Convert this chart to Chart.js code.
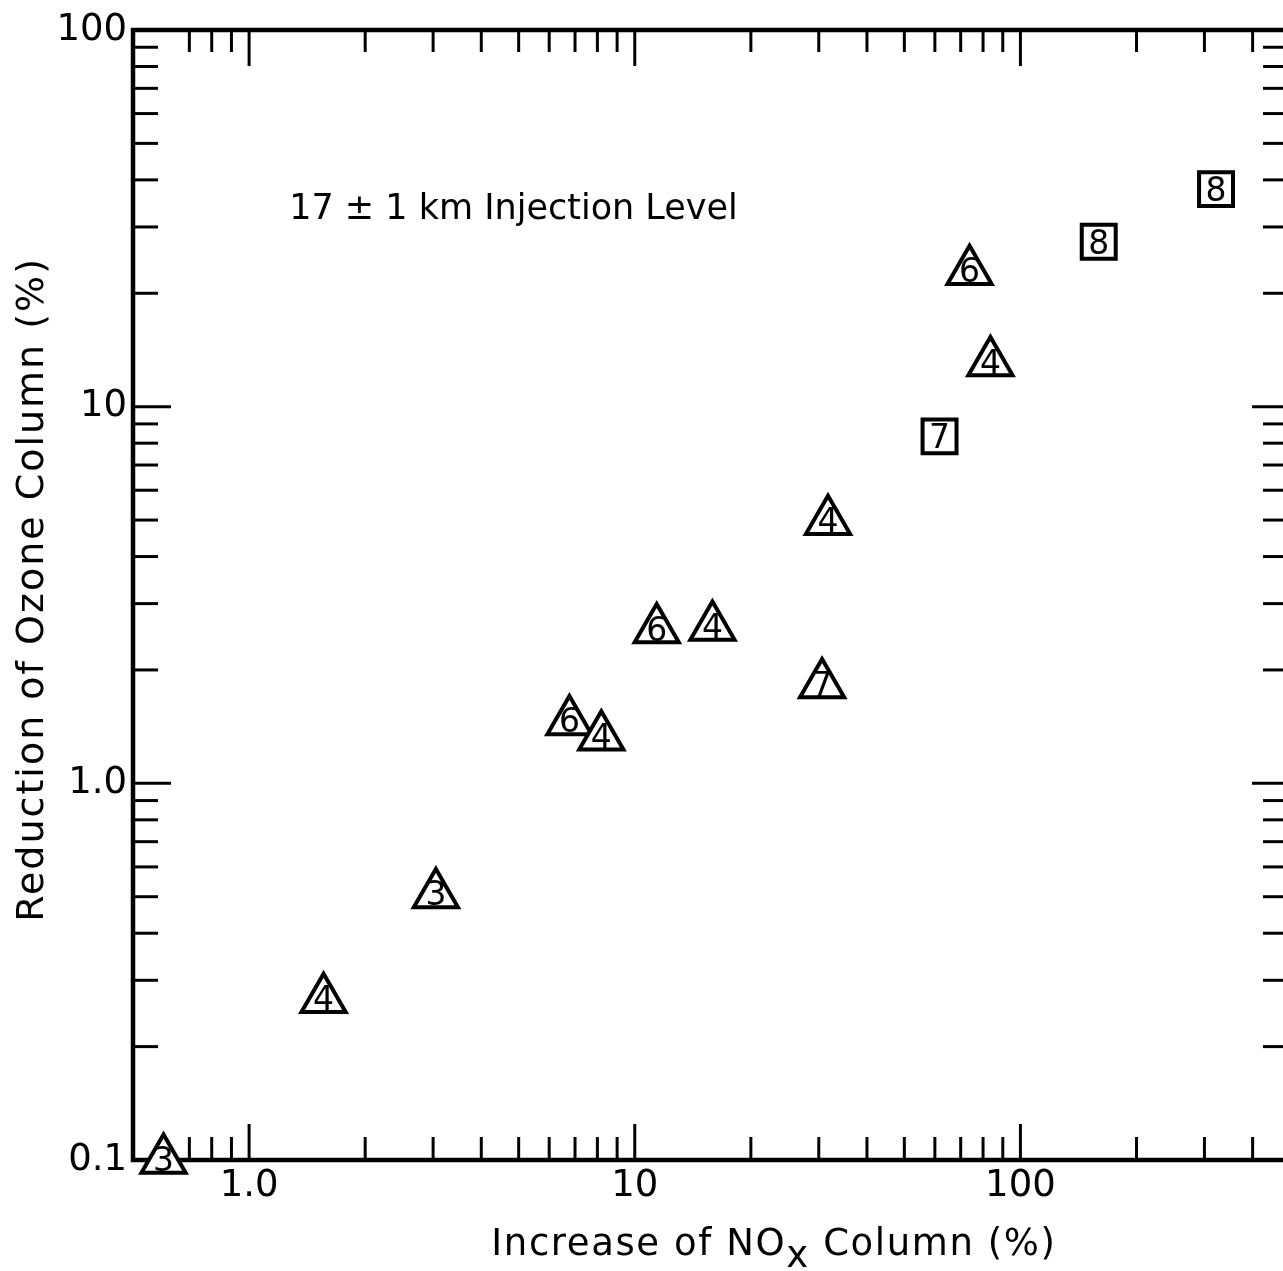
<!DOCTYPE html>
<html>
<head>
<meta charset="utf-8">
<script src="https://cdn.jsdelivr.net/npm/chart.js@4/dist/chart.umd.min.js"></script>
<style>
  html, body { margin: 0; padding: 0; background: #fff; overflow: hidden; }
  #wrap { width: 1283px; height: 1271px; overflow: hidden; }
  canvas { display: block; }
</style>
</head>
<body>
<div id="wrap"><canvas id="c" width="1320" height="1271" style="width:1320px;height:1271px"></canvas></div>
<script>
// Model runs plotted as triangles (increase of NOx column %, reduction of ozone column %)
const triNox   = [0.60, 1.56, 3.05, 6.77, 8.19, 11.4, 15.9, 30.6, 31.7, 73.8, 83.6];
const triOzone = [0.100, 0.267, 0.507, 1.46, 1.33, 2.56, 2.60, 1.83, 4.96, 22.9, 13.1];
const triTags  = ['3', '4', '3', '6', '4', '6', '4', '7', '4', '6', '4'];

// Model runs plotted as squares
const sqNox    = [61.7, 159.6, 321.5];
const sqOzone  = [8.34, 27.4, 37.8];
const sqTags   = ['7', '8', '8'];

// Axis ranges and ticks
const xRange = [0.5, 500];
const yRange = [0.1, 100];
const xMajor = [1, 10, 100];
const xMajorLabels = ['1.0', '10', '100'];
const xMinor = [0.7, 0.8, 0.9, 2, 3, 4, 5, 6, 7, 8, 9, 20, 30, 40, 50, 60, 70, 80, 90, 200, 300, 400];
const yMajor = [0.1, 1, 10, 100];
const yMajorLabels = ['0.1', '1.0', '10', '100'];
const yMinor = [0.2, 0.3, 0.4, 0.5, 0.6, 0.7, 0.8, 0.9, 2, 3, 4, 5, 6, 7, 8, 9, 20, 30, 40, 50, 60, 70, 80, 90];

const xTitleParts = ['Increase of NO', 'x', ' Column (%)'];
const yTitle = 'Reduction of Ozone Column (%)';
const note = '17 \u00b1 1 km Injection Level';

const FONT = '"DejaVu Sans", "Liberation Sans", sans-serif';

// Box frame with inward tick marks on all four sides
const framePlugin = {
  id: 'frame',
  beforeDatasetsDraw(chart) {
    const { ctx, chartArea: a, scales: { x, y } } = chart;
    ctx.save();
    ctx.strokeStyle = '#000';
    ctx.lineCap = 'butt';
    const seg = (x1, y1, x2, y2) => { ctx.beginPath(); ctx.moveTo(x1, y1); ctx.lineTo(x2, y2); ctx.stroke(); };
    ctx.lineWidth = 3;
    xMinor.forEach(v => {
      const px = x.getPixelForValue(v);
      seg(px, a.bottom, px, a.bottom - 23);
      seg(px, a.top, px, a.top + 22);
    });
    xMajor.forEach(v => {
      const px = x.getPixelForValue(v);
      seg(px, a.bottom, px, a.bottom - 36);
      seg(px, a.top, px, a.top + 36);
    });
    yMinor.forEach(v => {
      const py = y.getPixelForValue(v);
      seg(a.left, py, a.left + 25, py);
      seg(a.right, py, a.right - 27, py);
    });
    yMajor.forEach(v => {
      const py = y.getPixelForValue(v);
      seg(a.left, py, a.left + 38, py);
      seg(a.right, py, a.right - 38, py);
    });
    ctx.lineWidth = 4.5;
    ctx.strokeRect(a.left, a.top, a.right - a.left, a.bottom - a.top);
    ctx.restore();
  }
};

// Run numbers written inside each marker, plus the axis titles and the note
const textPlugin = {
  id: 'texts',
  afterDatasetsDraw(chart) {
    const { ctx, chartArea: a } = chart;
    ctx.save();
    ctx.fillStyle = '#000';
    const tagFont = 33;
    ctx.font = tagFont + 'px ' + FONT;
    ctx.textAlign = 'center';
    ctx.textBaseline = 'alphabetic';
    const capH = tagFont * 0.73;
    const tagSets = [[0, triTags, -1], [1, sqTags, 0]];
    tagSets.forEach(([di, tags, dy]) => {
      const meta = chart.getDatasetMeta(di);
      meta.data.forEach((pt, i) => {
        ctx.fillText(tags[i], pt.x, pt.y + capH / 2 + dy);
      });
    });

    // note inside the plot
    ctx.letterSpacing = '0px';
    ctx.font = '35px ' + FONT;
    ctx.textAlign = 'left';
    ctx.fillText(note, a.left + (a.right - a.left) * 0.135, a.top + (a.bottom - a.top) * 0.167);

    // x-axis title with subscript x
    ctx.letterSpacing = '1.6px';
    ctx.font = '37px ' + FONT;
    const w0 = ctx.measureText(xTitleParts[0]).width;
    const w1 = ctx.measureText(xTitleParts[1]).width;
    const w2 = ctx.measureText(xTitleParts[2]).width;
    const total = w0 + w1 + w2;
    const cx = a.left + (a.right - a.left) * 0.554;
    const base = 1255;
    const sx = cx - total / 2;
    ctx.fillText(xTitleParts[0], sx, base);
    ctx.fillText(xTitleParts[1], sx + w0, base + 12);
    ctx.fillText(xTitleParts[2], sx + w0 + w1, base);

    // y-axis title, rotated
    ctx.letterSpacing = '2px';
    ctx.font = '38px ' + FONT;
    ctx.textAlign = 'center';
    ctx.textBaseline = 'middle';
    ctx.translate(33, a.top + (a.bottom - a.top) * 0.495);
    ctx.rotate(-Math.PI / 2);
    ctx.fillText(yTitle, 0, 0);
    ctx.restore();
  }
};

const ctx = document.getElementById('c').getContext('2d');
new Chart(ctx, {
  type: 'scatter',
  data: {
    datasets: [
      {
        label: 'triangles',
        data: triNox.map((v, i) => ({ x: v, y: triOzone[i] })),
        pointStyle: 'triangle',
        pointRadius: 25.5,
        pointHoverRadius: 25.5,
        pointBorderWidth: 4,
        borderColor: '#000',
        backgroundColor: '#fff',
        clip: false
      },
      {
        label: 'squares',
        data: sqNox.map((v, i) => ({ x: v, y: sqOzone[i] })),
        pointStyle: 'rect',
        pointRadius: 24,
        pointHoverRadius: 24,
        pointBorderWidth: 4,
        borderColor: '#000',
        backgroundColor: '#fff',
        clip: false
      }
    ]
  },
  options: {
    responsive: false,
    animation: false,
    events: [],
    layout: { padding: { left: 0, top: 30, right: 30, bottom: 0 } },
    plugins: { legend: { display: false }, tooltip: { enabled: false } },
    scales: {
      x: {
        type: 'logarithmic',
        min: xRange[0],
        max: xRange[1],
        grid: { display: false, drawTicks: false },
        border: { display: false },
        afterBuildTicks: s => { s.ticks = xMajor.map(v => ({ value: v })); },
        afterFit: s => { s.height = 111; },
        ticks: {
          autoSkip: false,
          maxRotation: 0,
          padding: 4,
          color: '#000',
          font: { family: FONT, size: 37 },
          callback: (v) => xMajorLabels[xMajor.indexOf(v)]
        }
      },
      y: {
        type: 'logarithmic',
        min: yRange[0],
        max: yRange[1],
        grid: { display: false, drawTicks: false },
        border: { display: false },
        afterBuildTicks: s => { s.ticks = yMajor.map(v => ({ value: v })); },
        afterFit: s => { s.width = 133; },
        ticks: {
          autoSkip: false,
          padding: 6,
          color: '#000',
          font: { family: FONT, size: 37 },
          callback: (v) => yMajorLabels[yMajor.indexOf(v)]
        }
      }
    }
  },
  plugins: [framePlugin, textPlugin]
});
</script>
</body>
</html>
